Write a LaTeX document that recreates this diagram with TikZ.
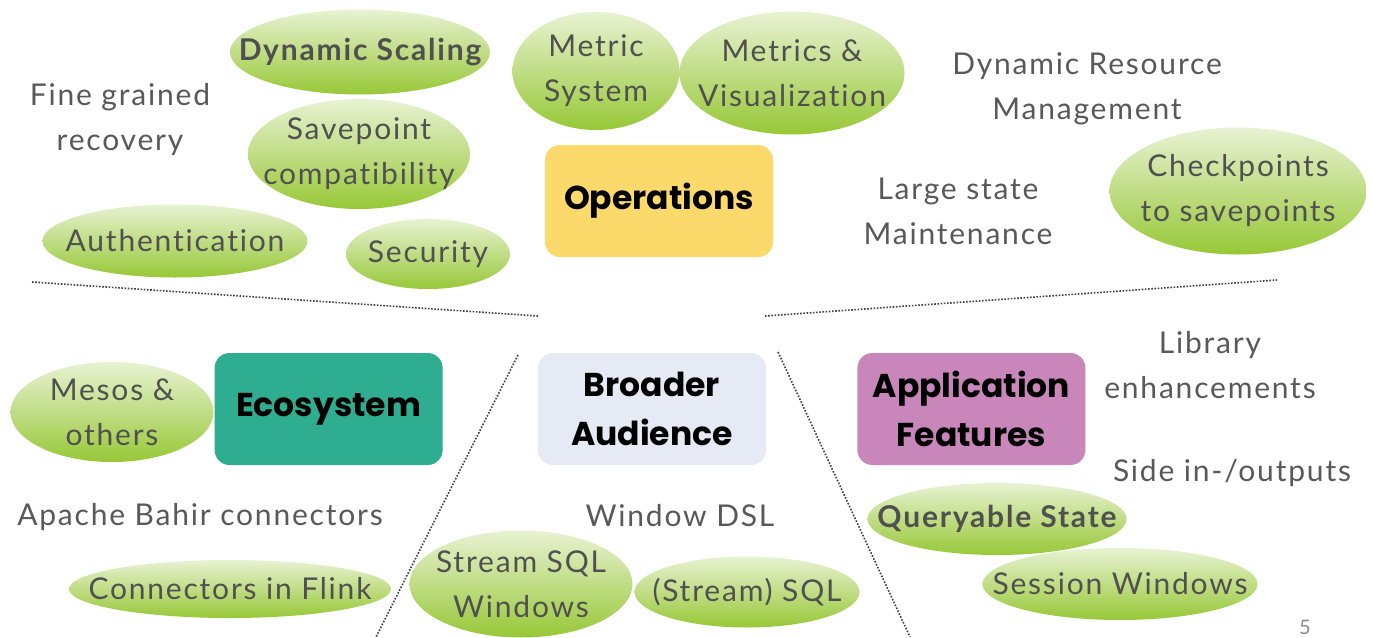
\documentclass[tikz,border=0pt]{standalone}
\usepackage{fontspec}
\setmainfont{Lato}[LetterSpace=6, Ligatures={NoCommon,NoRare}]
\newfontfamily\headfont{Poppins}
\usepackage{xcolor}
\usepackage{tikz}
\usetikzlibrary{shapes.geometric, positioning}

\definecolor{txtgray}{HTML}{595959}
\definecolor{bubgray}{HTML}{505050}
\definecolor{bubtop}{HTML}{E8F2D2}
\definecolor{bubbot}{HTML}{97C837}
\definecolor{opsyellow}{HTML}{FCD96B}
\definecolor{ecogreen}{HTML}{2EAD90}
\definecolor{audblue}{HTML}{E5EAF5}
\definecolor{featpink}{HTML}{C886BA}

\begin{document}
\begin{tikzpicture}[x=1pt, y=-1pt,
    bubble/.style 2 args={ellipse, minimum width=#1pt, minimum height=#2pt, inner sep=0pt, top color=bubtop, bottom color=bubbot},
    bubtxt/.style={text=bubgray, align=center, inner sep=0pt, font=\fontsize{30}{45}\selectfont},
    bubbold/.style={bubtxt, font=\bfseries\fontsize{30}{45}\selectfont},
    topic/.style={rectangle, rounded corners=15pt, minimum width=228pt, minimum height=112pt, align=center, text=black, font=\headfont\bfseries\fontsize{33}{49}\selectfont},
    note/.style={text=txtgray, align=center, font=\fontsize{30}{45}\selectfont},
    sep/.style={draw=black!75, line width=1.6pt, dash pattern=on 1.6pt off 1.6pt}]

    \useasboundingbox[fill=white] (0,0) rectangle (1373,637);

    % Operations
    \node [topic, fill=opsyellow] (ops) at (659,201) {Operations};
    \node [bubble={260}{85}, label={[bubbold]center:Dynamic Scaling}] (dynscale) at (360,52) {};
    \node [bubble={167}{118}, label={[bubtxt]center:Metric\\System}] (metricsys) at (596,71) {};
    \node [bubble={225}{123}, label={[bubtxt]center:Metrics \&\\Visualization}] (metricvis) at (792,73) {};
    \node [bubble={222}{110}, label={[bubtxt]center:Savepoint\\compatibility}] (savepoint) at (359,154) {};
    \node [bubble={265}{73}, label={[bubtxt]center:Authentication}] (auth) at (175,241) {};
    \node [bubble={164}{70}, label={[bubtxt]center:Security}] (security) at (428,254) {};
    \node [bubble={257}{127}, label={[bubtxt]center:Checkpoints\\to savepoints}] (ckpt) at (1238,191) {};
    \node [note] (recovery) at (120,120) {Fine grained\\recovery};
    \node [note] (dynres) at (1087,89) {Dynamic Resource\\Management};
    \node [note] (largestate) at (958,211) {Large state\\Maintenance};

    % Ecosystem, Broader Audience, Application Features
    \node [topic, fill=audblue] (audience) at (652,409) {Broader\\Audience};
    \node [topic, fill=ecogreen, left=95pt of audience] (eco) {Ecosystem};
    \node [topic, fill=featpink, right=91pt of audience] (features) {Application\\Features};

    \node [bubble={203}{100}, label={[bubtxt]center:Mesos \&\\others}] (mesos) at (112,412) {};
    \node [bubble={322}{58}, label={[bubtxt]center:Connectors in Flink}] (connflink) at (230,589) {};
    \node [note] (bahir) at (200,517) {Apache Bahir connectors};

    \node [bubble={223}{107}, label={[bubtxt]center:Stream SQL\\Windows}] (sqlwin) at (521,584) {};
    \node [bubble={225}{71}, label={[bubtxt]center:(Stream) SQL}] (streamsql) at (747,592) {};
    \node [note] (windsl) at (680,516) {Window DSL};

    \node [bubble={259}{72}, label={[bubbold]center:Queryable State}] (queryable) at (997,519) {};
    \node [bubble={275}{72}, label={[bubtxt]center:Session Windows}] (session) at (1120,584) {};
    \node [note] (library) at (1210,365) {Library\\enhancements};
    \node [note] (sideio) at (1232,473) {Side in-/outputs};

    \node [text=black!45, font=\fontsize{20}{24}\selectfont] (pagenum) at (1305,627) {5};

    % separators
    \coordinate (sepA1) at (32,282);
    \coordinate (sepA2) at (538,316);
    \coordinate (sepB1) at (765,316);
    \coordinate (sepB2) at (1277,280);
    \coordinate (sepC1) at (518,355);
    \coordinate (sepC2) at (376,637);
    \coordinate (sepD1) at (778,352);
    \coordinate (sepD2) at (910,637);
    \draw [sep] (sepA1) -- (sepA2);
    \draw [sep] (sepB1) -- (sepB2);
    \draw [sep] (sepC1) -- (sepC2);
    \draw [sep] (sepD1) -- (sepD2);
\end{tikzpicture}
\end{document}
